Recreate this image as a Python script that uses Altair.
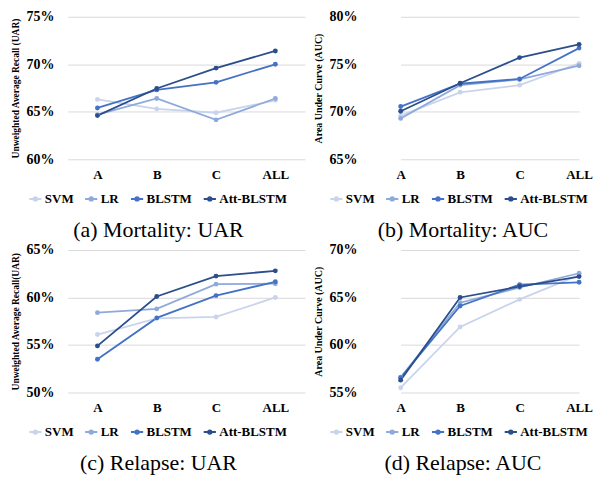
import altair as alt
import pandas as pd

categories = ["A", "B", "C", "ALL"]
models = ["SVM", "LR", "BLSTM", "Att-BLSTM"]
colors = ["#c9d4ec", "#8eaadb", "#4472c4", "#2b4e8c"]

# (a) Mortality: UAR (%)
mort_uar_svm = [66.3, 65.3, 64.9, 66.2]
mort_uar_lr = [64.7, 66.4, 64.15, 66.4]
mort_uar_blstm = [65.4, 67.3, 68.1, 70.0]
mort_uar_att = [64.6, 67.45, 69.6, 71.4]

# (b) Mortality: AUC (%)
mort_auc_svm = [69.6, 72.05, 72.8, 75.1]
mort_auc_lr = [69.3, 72.8, 73.4, 74.85]
mort_auc_blstm = [70.55, 72.95, 73.45, 76.7]
mort_auc_att = [70.05, 73.0, 75.7, 77.1]

# (c) Relapse: UAR (%)
rel_uar_svm = [56.1, 57.8, 57.95, 60.0]
rel_uar_lr = [58.4, 58.8, 61.4, 61.45]
rel_uar_blstm = [53.5, 57.85, 60.2, 61.65]
rel_uar_att = [54.9, 60.1, 62.25, 62.8]

# (d) Relapse: AUC (%)
rel_auc_svm = [55.5, 61.9, 64.8, 67.35]
rel_auc_lr = [56.6, 64.45, 66.05, 67.55]
rel_auc_blstm = [56.55, 64.1, 66.35, 66.6]
rel_auc_att = [56.3, 65.0, 66.15, 67.2]

SERIF = "Liberation Serif"
LEGEND_PATH = "M-1,0L1,0M-0.28,0a0.28,0.28 0 1,0 0.56,0a0.28,0.28 0 1,0 -0.56,0"
H = 143


def panel(series, ytitle, ytsize, ymin, ymax, caption, width, xscale, cap_dx, leg_x):
    rows = []
    for m, vals in zip(models, series):
        for c, v in zip(categories, vals):
            rows.append({"cat": c, "model": m, "val": v})
    df = pd.DataFrame(rows)
    ticks = list(range(ymin, ymax + 1, 5))
    base = alt.Chart(df).encode(
        x=alt.X(
            "cat:N",
            sort=categories,
            scale=xscale,
            axis=alt.Axis(
                title=None, labelAngle=0, grid=False, domain=False, ticks=False,
                labelFont=SERIF, labelFontSize=13, labelFontWeight="bold",
                labelColor="#000000", labelPadding=9,
            ),
        ),
        y=alt.Y(
            "val:Q",
            scale=alt.Scale(domain=[ymin, ymax], nice=False, zero=False),
            axis=alt.Axis(
                values=ticks, labelExpr="datum.value + '%'", title=ytitle,
                grid=True, gridColor="#d9d9d9", gridWidth=1, domain=False, ticks=False,
                labelFont=SERIF, labelFontSize=14, labelFontWeight="bold",
                labelColor="#000000", labelPadding=14,
                titleFont=SERIF, titleFontSize=ytsize, titleFontWeight="bold",
                titleColor="#000000", titlePadding=5,
            ),
        ),
        color=alt.Color(
            "model:N",
            scale=alt.Scale(domain=models, range=colors),
            legend=alt.Legend(
                title=None, orient="none", direction="horizontal",
                legendX=leg_x, legendY=175,
                symbolType=LEGEND_PATH, symbolSize=150, symbolStrokeWidth=2,
                labelFont=SERIF, labelFontSize=13, labelFontWeight="bold",
                labelColor="#000000", labelOffset=2, columnPadding=7,
            ),
        ),
    )
    line = base.mark_line(strokeWidth=1.8)
    pts = base.mark_circle(size=24, opacity=1)
    return alt.layer(line, pts).properties(
        width=width, height=H,
        title=alt.TitleParams(
            text=caption, orient="bottom", anchor="middle", dx=cap_dx, offset=14,
            font=SERIF, fontSize=22, fontWeight="normal", color="#000000",
        ),
    )


left_x = alt.Scale(type="point", padding=0.5)
right_x = alt.Scale(type="point", padding=0, range=[30, 209])

a = panel([mort_uar_svm, mort_uar_lr, mort_uar_blstm, mort_uar_att],
          "Unweighted Average Recall (UAR)", 9.5, 60, 75, "(a) Mortality: UAR",
          238, left_x, -28, -40)
b = panel([mort_auc_svm, mort_auc_lr, mort_auc_blstm, mort_auc_att],
          "Area Under Curve (AUC)", 10, 65, 80, "(b) Mortality: AUC",
          227, right_x, -21, -42)
c = panel([rel_uar_svm, rel_uar_lr, rel_uar_blstm, rel_uar_att],
          "Unweighted Average Recall(UAR)", 9.5, 50, 65, "(c) Relapse: UAR",
          238, left_x, -28, -40)
d = panel([rel_auc_svm, rel_auc_lr, rel_auc_blstm, rel_auc_att],
          "Area Under Curve (AUC)", 10, 55, 70, "(d) Relapse: AUC",
          227, right_x, -21, -42)

top = alt.hconcat(a, b, spacing=9).resolve_scale(color="independent")
bottom = alt.hconcat(c, d, spacing=9).resolve_scale(color="independent")
chart = (
    alt.vconcat(top, bottom, spacing=2)
    .resolve_scale(color="independent")
    .properties(padding={"top": 1, "left": 2, "right": 0, "bottom": 0},
                background="#ffffff")
    .configure_view(stroke=None)
)

chart.save("out.html", embed_options={"renderer": "svg", "actions": False})
